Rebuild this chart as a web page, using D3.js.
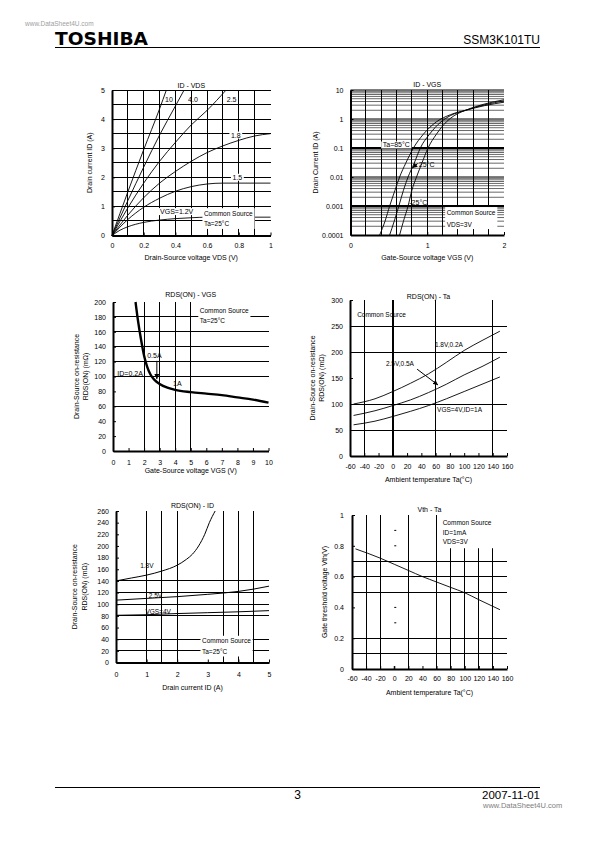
<!DOCTYPE html>
<html><head><meta charset="utf-8">
<script src="https://cdn.jsdelivr.net/npm/d3@7"></script>
<style>
body{margin:0;background:#fff}
svg text{font-family:"Liberation Sans",Arial,Helvetica,sans-serif;fill:#000}
</style></head><body>
<svg id="page" width="595" height="842" xmlns="http://www.w3.org/2000/svg"></svg>
<script>
// ================= DATA =================
// Chart 1 : ID - VDS  (VDS in V, ID in A)
const c1XTicks = [0, 0.2, 0.4, 0.6, 0.8, 1];
const c1YTicks = [0, 1, 2, 3, 4, 5];
const c1Vgs10 = [[0,0],[0.1,1.5],[0.2,2.95],[0.3,4.35],[0.343,5]];
const c1Vgs40 = [[0,0],[0.1,1.2],[0.2,2.35],[0.3,3.45],[0.4,4.45],[0.455,5]];
const c1Vgs25 = [[0,0],[0.1,0.95],[0.2,1.8],[0.3,2.55],[0.4,3.2],[0.5,3.8],[0.6,4.3],[0.72,5]];
const c1Vgs18 = [[0,0],[0.1,0.7],[0.2,1.3],[0.3,1.8],[0.4,2.2],[0.5,2.55],[0.6,2.85],[0.7,3.08],[0.8,3.27],[0.9,3.42],[1.0,3.5]];
const c1Vgs15 = [[0,0],[0.1,0.55],[0.2,0.97],[0.3,1.28],[0.4,1.52],[0.5,1.68],[0.6,1.77],[0.7,1.8],[1.0,1.8]];
const c1Vgs12 = [[0,0],[0.05,0.18],[0.1,0.3],[0.2,0.45],[0.3,0.53],[0.4,0.58],[0.5,0.61],[0.6,0.63],[1.0,0.63]];

// Chart 2 : ID - VGS  (VGS in V, ID in A, log)
const c2XTicks = [0, 1, 2];
const c2YTicks = [0.0001, 0.001, 0.01, 0.1, 1, 10];
const c2YLabels = ["0.0001", "0.001", "0.01", "0.1", "1", "10"];
const c2Ta85 = [[0.38,1e-4],[0.45,3e-4],[0.51,1e-3],[0.58,3.5e-3],[0.64,1e-2],[0.72,3e-2],[0.82,0.1],[0.95,0.3],[1.12,0.8],[1.3,1.4],[1.5,2.0],[1.75,2.9],[2.0,3.8]];
const c2Ta25 = [[0.51,1e-4],[0.57,3e-4],[0.63,1e-3],[0.69,3.5e-3],[0.75,1e-2],[0.83,3e-2],[0.91,0.1],[1.03,0.3],[1.18,0.8],[1.3,1.3],[1.5,2.0],[1.75,3.1],[2.0,4.2]];
const c2TaM25 = [[0.64,1e-4],[0.69,3e-4],[0.75,1e-3],[0.8,3.5e-3],[0.86,1e-2],[0.93,3e-2],[1.01,0.1],[1.12,0.3],[1.25,0.8],[1.35,1.3],[1.5,2.0],[1.75,3.3],[2.0,4.6]];

// Chart 3 : RDS(ON) - VGS  (VGS in V, mΩ)
const c3XTicks = [0,1,2,3,4,5,6,7,8,9,10];
const c3YTicks = [0,20,40,60,80,100,120,140,160,180,200];
const c3Rds = [[1.45,200],[1.6,176],[1.8,150],[2.0,128],[2.2,113],[2.4,103],[2.6,97],[2.8,93],[3.0,90],[3.5,85],[4,82],[5,79],[6,77],[7,75],[8,72],[9,69],[10,65]];

// Chart 4 : RDS(ON) - Ta  (°C, mΩ)
const c4XTicks = [-60,-40,-20,0,20,40,60,80,100,120,140,160];
const c4YTicks = [0,50,100,150,200,250,300];
const c4Vgs18 = [[-55,100],[-25,110],[0,124],[25,140],[50,158],[75,180],[100,203],[125,222],[150,240]];
const c4Vgs25 = [[-55,78],[-25,87],[0,97],[25,108],[50,122],[75,138],[100,156],[125,172],[150,190]];
const c4Vgs40 = [[-55,60],[-25,67],[0,76],[25,86],[50,97],[75,110],[100,124],[125,138],[150,152]];

// Chart 5 : RDS(ON) - ID  (A, mΩ)
const c5XTicks = [0,1,2,3,4,5];
const c5YTicks = [0,20,40,60,80,100,120,140,160,180,200,220,240,260];
const c5Vgs18 = [[0,140],[0.5,145],[1,150],[1.5,157],[2,167],[2.3,177],[2.5,186],[2.7,200],[2.9,220],[3.05,240],[3.24,260]];
const c5Vgs25 = [[0,107],[1,110],[2,113],[3,117],[4,122],[4.5,126],[5,131]];
const c5Vgs40 = [[0,81],[1,82],[2,84],[3,85.5],[4,87],[5,89]];

// Chart 6 : Vth - Ta  (°C, V)
const c6XTicks = [-60,-40,-20,0,20,40,60,80,100,120,140,160];
const c6YTicks = [0,0.2,0.4,0.6,0.8,1];
const c6Vth = [[-55,0.78],[-20,0.72],[0,0.68],[20,0.64],[40,0.60],[60,0.565],[80,0.53],[100,0.495],[120,0.45],[150,0.385]];

// ================= DRAWING =================
const svg = d3.select('#page');
svg.append('rect').attr('width',595).attr('height',842).attr('fill','#fff');
const defs = svg.append('defs');
defs.append('marker').attr('id','arr').attr('viewBox','0 0 10 10')
  .attr('refX',10).attr('refY',5).attr('markerWidth',5).attr('markerHeight',5)
  .attr('orient','auto').append('path').attr('d','M0,0 L10,5 L0,10 z').attr('fill','#000');

function label(g, x, y, s, opt = {}) {
  const t = g.append('text').attr('x', x).attr('y', y).attr('dy', '0.35em')
    .attr('font-size', opt.size || 7).attr('text-anchor', opt.anchor || 'start').text(s);
  if (opt.bg) {
    const b = t.node().getBBox();
    g.insert('rect', () => t.node()).attr('x', b.x - 1.5).attr('y', b.y)
      .attr('width', b.width + 3).attr('height', b.height).attr('fill', '#fff');
  }
  return t;
}
function legend(g, x, ys, lines, pad, extra = {}) {
  const ts = lines.map((s, i) => label(g, x, ys[i], s, {size: 6.5}));
  let x0 = Infinity, y0 = Infinity, x1 = -Infinity, y1 = -Infinity;
  ts.forEach(t => { const b = t.node().getBBox();
    x0 = Math.min(x0, b.x); y0 = Math.min(y0, b.y); x1 = Math.max(x1, b.x + b.width); y1 = Math.max(y1, b.y + b.height); });
  if (extra.top !== undefined) y0 = extra.top + pad;
  g.insert('rect', () => ts[0].node()).attr('x', x0 - pad).attr('y', y0 - pad)
    .attr('width', x1 - x0 + 2 * pad).attr('height', y1 - y0 + 2 * pad).attr('fill', '#fff');
}

function drawChart(c) {
  const g = svg.append('g');
  const x = d3.scaleLinear().domain(c.xDomain).range([c.left, c.right]);
  const y = (c.yLog ? d3.scaleLog() : d3.scaleLinear()).domain(c.yDomain).range([c.bottom, c.top]);
  const grid = g.append('g').attr('stroke', '#000');
  c.vGrid.forEach(v => grid.append('line').attr('x1', x(v)).attr('x2', x(v))
    .attr('y1', c.bottom).attr('y2', c.top).attr('stroke-width', c.vw ? c.vw(v) : 1)
    .attr('shape-rendering', 'crispEdges'));
  c.hGrid.forEach(v => grid.append('line').attr('x1', c.left).attr('x2', c.right)
    .attr('y1', y(v)).attr('y2', y(v)).attr('stroke-width', c.hw ? c.hw(v) : 1)
    .attr('shape-rendering', c.hCrisp === false ? null : 'crispEdges'));
  const ya = d3.axisLeft(y).tickValues(c.yTicks).tickSizeInner(-3).tickSizeOuter(0)
    .tickPadding(c.yPad || 6).tickFormat(c.yFmt || (d => String(d)));
  g.append('g').attr('transform', `translate(${c.left},0)`).call(ya)
    .attr('font-family', null).attr('font-size', 7)
    .call(a => a.select('.domain').attr('stroke-width', 2));
  const xa = d3.axisBottom(x).tickValues(c.xTicks).tickSizeInner(-3).tickSizeOuter(0)
    .tickPadding(c.xPad || 8).tickFormat(c.xFmt || (d => String(d)));
  g.append('g').attr('transform', `translate(0,${c.bottom})`).call(xa)
    .attr('font-family', null).attr('font-size', 7)
    .call(a => a.select('.domain').attr('stroke-width', 2));
  const cx = (c.left + c.right) / 2, cy = (c.top + c.bottom) / 2;
  label(g, c.titleX || cx, c.titleY, c.title, {anchor: 'middle'});
  label(g, cx, c.xTitleY, c.xTitle, {anchor: 'middle'});
  c.yTitle.forEach((s, i) => {
    g.append('text').attr('transform', `translate(${c.yTitleX[i]},${cy}) rotate(-90)`)
      .attr('text-anchor', 'middle').attr('dy', '0.35em').attr('font-size', 7).text(s);
  });
  const line = d3.line().x(d => x(d[0])).y(d => y(d[1])).curve(d3.curveMonotoneX);
  const curve = (data, w) => g.append('path').datum(data).attr('d', line)
    .attr('fill', 'none').attr('stroke', '#000').attr('stroke-width', w || 1);
  const arrow = (p0, p1) => g.append('line').attr('x1', x(p0[0])).attr('y1', y(p0[1]))
    .attr('x2', x(p1[0])).attr('y2', y(p1[1])).attr('stroke', '#000').attr('stroke-width', 1)
    .attr('marker-end', 'url(#arr)');
  return {g, x, y, curve, arrow};
}

// ---------- header / footer ----------
svg.append('text').attr('x', 25).attr('y', 26).attr('font-size', 6.5).style('fill', '#a0a0a0').text('www.DataSheet4U.com');
svg.append('text').attr('x', 55).attr('y', 45).attr('font-size', 18).attr('font-weight', 'bold')
  .style('font-family', '"DejaVu Sans",sans-serif').attr('textLength', 93).attr('lengthAdjust', 'spacingAndGlyphs').text('TOSHIBA');
svg.append('text').attr('x', 540).attr('y', 44).attr('font-size', 12).attr('text-anchor', 'end').text('SSM3K101TU');
svg.append('line').attr('x1', 55).attr('x2', 540).attr('y1', 47.5).attr('y2', 47.5).attr('stroke', '#000').attr('stroke-width', 1);
svg.append('line').attr('x1', 55).attr('x2', 540).attr('y1', 787.5).attr('y2', 787.5).attr('stroke', '#000').attr('stroke-width', 1);
svg.append('text').attr('x', 297.5).attr('y', 799).attr('font-size', 12).attr('text-anchor', 'middle').text('3');
svg.append('text').attr('x', 540).attr('y', 799).attr('font-size', 11.5).attr('text-anchor', 'end').text('2007-11-01');
svg.append('text').attr('x', 483).attr('y', 808).attr('font-size', 7.5).style('fill', '#808080').text('www.DataSheet4U.com');

// ---------- Chart 1 ----------
{
  const ch = drawChart({left: 112, right: 270.5, top: 90, bottom: 235.5,
    xDomain: [0, 1], yDomain: [0, 5],
    vGrid: [0.1,0.2,0.3,0.4,0.5,0.6,0.7,0.8,0.9], hGrid: [0.5,1,1.5,2,2.5,3,3.5,4,4.5,5],
    xTicks: c1XTicks, yTicks: c1YTicks, xPad: 8, yPad: 7,
    title: 'ID - VDS', titleY: 86, xTitle: 'Drain-Source voltage VDS (V)', xTitleY: 258,
    yTitle: ['Drain current ID (A)'], yTitleX: [90]});
  [c1Vgs10, c1Vgs40, c1Vgs25, c1Vgs18, c1Vgs15, c1Vgs12].forEach(d => ch.curve(d, 0.9));
  const {g, x, y} = ch;
  label(g, x(0.335), y(4.66), '10');
  label(g, x(0.48), y(4.66), '4.0');
  label(g, x(0.724), y(4.66), '2.5');
  label(g, x(0.75), y(3.45), '1.8', {bg: true});
  label(g, x(0.76), y(2.0), '1.5', {bg: true});
  label(g, x(0.303), y(0.82), 'VGS=1.2V', {bg: true});
  legend(g, x(0.58), [y(0.76), y(0.39)], ['Common Source', 'Ta=25°C'], 1.5);
}

// ---------- Chart 2 ----------
{
  const minors = [];
  [1e-4, 1e-3, 1e-2, 1e-1, 1].forEach(dec => { for (let k = 2; k <= 9; k++) minors.push(dec * k); });
  const decades = [1e-3, 1e-2, 1e-1, 1, 10];
  const ch = drawChart({left: 350.5, right: 504, top: 90, bottom: 235,
    xDomain: [0, 2], yDomain: [1e-4, 10], yLog: true,
    vGrid: [0.2,0.4,0.6,0.8,1,1.2,1.4,1.6,1.8], hGrid: minors.concat(decades), hCrisp: false,
    hw: v => (Math.abs(v - 0.1) < 1e-9 || Math.abs(v - 0.001) < 1e-12) ? 2 :
             (decades.some(d => Math.abs(v - d) < d * 1e-6) ? 1.2 : 0.6),
    xTicks: c2XTicks, yTicks: c2YTicks, yFmt: (d, i) => c2YLabels[i], xPad: 8, yPad: 7,
    title: 'ID - VGS', titleY: 85, xTitle: 'Gate-Source voltage VGS (V)', xTitleY: 258,
    yTitle: ['Drain Current ID (A)'], yTitleX: [316]});
  [c2Ta85, c2Ta25, c2TaM25].forEach(d => ch.curve(d, 0.9));
  const {g, x, y} = ch;
  label(g, x(0.42), y(0.127), 'Ta=85°C', {bg: true});
  label(g, x(0.89), y(0.0274), '25°C');
  ch.arrow([0.875, 0.029], [0.805, 0.0205]);
  label(g, x(0.766), y(0.00134), '-25°C');
  legend(g, x(1.253), [y(0.000607), y(0.000234)], ['Common Source', 'VDS=3V'], 1.5);
}

// ---------- Chart 3 ----------
{
  const ch = drawChart({left: 113, right: 268.5, top: 302, bottom: 451,
    xDomain: [0, 10], yDomain: [0, 200],
    vGrid: [2, 3, 4, 5], hGrid: [60, 100, 120, 140, 160, 180],
    xTicks: c3XTicks, yTicks: c3YTicks, xPad: 9.5, yPad: 7,
    title: 'RDS(ON) - VGS', titleY: 295, xTitle: 'Gate-Source voltage VGS (V)', xTitleY: 471,
    yTitle: ['Drain-Source on-resistance', 'RDS(ON) (mΩ)'], yTitleX: [76.5, 86]});
  ch.curve(c3Rds, 2.4);
  const {g, x, y} = ch;
  label(g, x(2.2), y(127.5), '0.5A');
  label(g, x(0.28), y(104.3), 'ID=0.2A');
  label(g, x(3.86), y(90), '1A');
  ch.arrow([2.82, 121], [2.82, 96.5]);
  legend(g, x(5.58), [y(188), y(174.5)], ['Common Source', 'Ta=25°C'], 1.5);
}

// ---------- Chart 4 ----------
{
  const ch = drawChart({left: 350, right: 507, top: 300, bottom: 456,
    xDomain: [-60, 160], yDomain: [0, 300],
    vGrid: [-40, 0, 60, 140], hGrid: [50, 100, 200, 250],
    vw: v => v === 0 ? 1.5 : 1,
    xTicks: c4XTicks, yTicks: c4YTicks, xPad: 8.5, yPad: 7,
    title: 'RDS(ON) - Ta', titleY: 297, xTitle: 'Ambient temperature Ta(°C)', xTitleY: 480,
    yTitle: ['Drain-Source on-resistance', 'RDS(ON) (mΩ)'], yTitleX: [313, 322]});
  [c4Vgs18, c4Vgs25, c4Vgs40].forEach(d => ch.curve(d, 0.9));
  const {g, x, y} = ch;
  label(g, x(-50), y(271), 'Common Source', {size: 6.5});
  label(g, x(59), y(213.5), '1.8V,0.2A', {size: 6.5});
  label(g, x(-9.6), y(177), '2.5V,0.5A', {size: 6.5});
  ch.arrow([34, 167], [63.3, 136.5]);
  label(g, x(62), y(88.5), 'VGS=4V,ID=1A', {size: 6.5});
}

// ---------- Chart 5 ----------
{
  const ch = drawChart({left: 116, right: 269, top: 511, bottom: 662.5,
    xDomain: [0, 5], yDomain: [0, 260],
    vGrid: [1, 1.5, 2, 3.5, 4, 4.5], hGrid: [20, 40, 80, 100, 120, 140],
    xTicks: c5XTicks, yTicks: c5YTicks, xPad: 10, yPad: 7,
    title: 'RDS(ON) - ID', titleY: 506, xTitle: 'Drain current ID (A)', xTitleY: 688,
    yTitle: ['Drain-Source on-resistance', 'RDS(ON) (mΩ)'], yTitleX: [75, 85]});
  [c5Vgs18, c5Vgs25, c5Vgs40].forEach(d => ch.curve(d, 1));
  const {g, x, y} = ch;
  label(g, x(0.79), y(165.6), '1.8V', {size: 6.5});
  label(g, x(1.07), y(114.1), '2.5V', {size: 6.5});
  label(g, x(0.96), y(86.7), 'VGS=4V', {size: 6.5});
  legend(g, x(2.81), [y(36.9), y(18.5)], ['Common Source', 'Ta=25°C'], 1.5);
}

// ---------- Chart 6 ----------
{
  const ch = drawChart({left: 352, right: 507, top: 515, bottom: 669,
    xDomain: [-60, 160], yDomain: [0, 1],
    vGrid: [-40, -20, 20, 60, 80, 100, 120, 140], hGrid: [0.1, 0.2, 0.5, 0.6, 0.7],
    xTicks: c6XTicks, yTicks: c6YTicks, xPad: 7.5, yPad: 8,
    title: 'Vth - Ta', titleY: 510, xTitle: 'Ambient temperature Ta(°C)', xTitleY: 692.5,
    yTitle: ['Gate threshold voltage Vth(V)'], yTitleX: [325]});
  const {g, x, y} = ch;
  [0.3, 0.4, 0.8, 0.9].forEach(v => g.append('line').attr('x1', x(0)).attr('x2', x(0) + 2)
    .attr('y1', y(v)).attr('y2', y(v)).attr('stroke', '#000').attr('stroke-width', 1));
  g.append('line').attr('x1', x(0)).attr('x2', x(0)).attr('y1', y(0)).attr('y2', y(0) - 3).attr('stroke', '#000');
  ch.curve(c6Vth, 0.9);
  legend(g, x(68.7), [y(0.948), y(0.883), y(0.825)], ['Common Source', 'ID=1mA', 'VDS=3V'], 3, {top: y(1)});
}
</script>
</body></html>
